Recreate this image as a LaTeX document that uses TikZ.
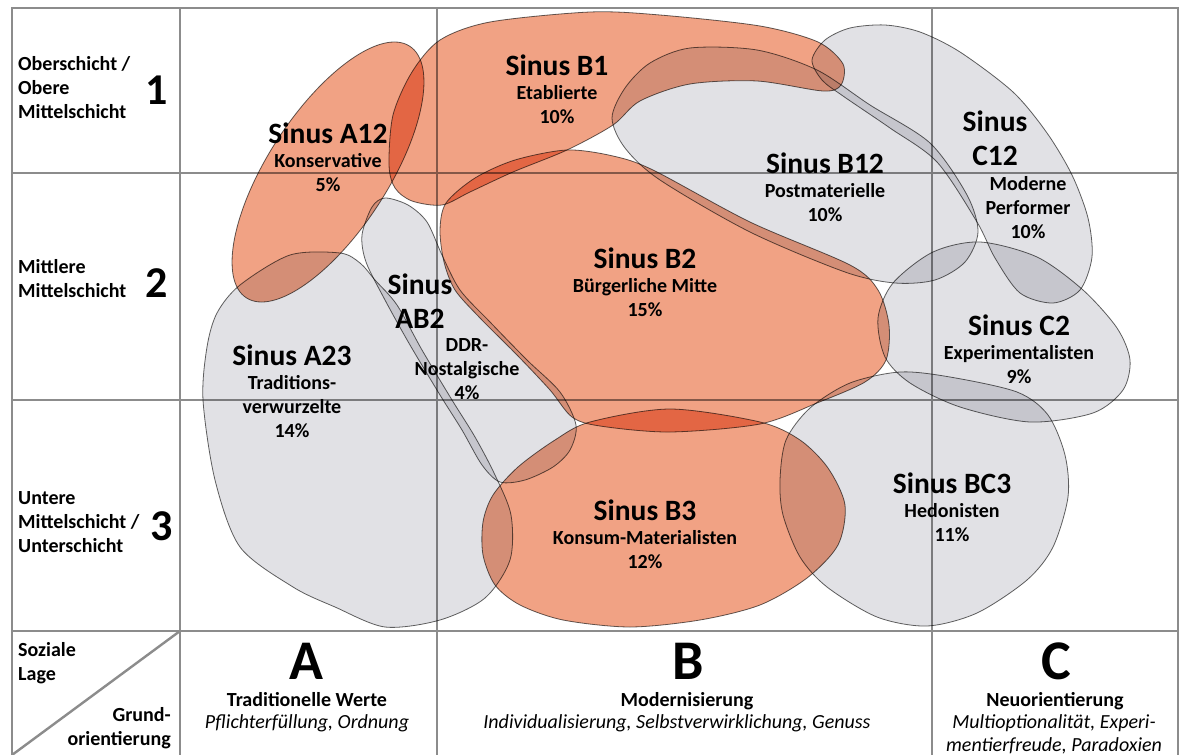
\documentclass[tikz,border=0pt]{standalone}
\usepackage{fontspec}
\setmainfont{Carlito}
\usepackage{tikz}
\usetikzlibrary{positioning}
\definecolor{lagegray}{RGB}{140,140,140}
\definecolor{blobedge}{RGB}{100,100,100}
\definecolor{milieuorange}{RGB}{241,162,132}
\definecolor{milieugray}{RGB}{225,225,229}
\newcommand{\sinusfont}{\fontsize{29.5}{34}\selectfont\bfseries}
\newcommand{\subfont}{\fontsize{20}{24}\selectfont\bfseries}
\newcommand{\digitfont}{\fontsize{44}{44}\selectfont\bfseries}
\newcommand{\letterfont}{\fontsize{56}{56}\selectfont\bfseries}
\newcommand{\zielfont}{\fontsize{20}{23}\selectfont\itshape}
\tikzstyle{gridline}=[draw=lagegray, line width=2.4pt]
\tikzstyle{orangeblob}=[fill=milieuorange, draw=blobedge, line width=0.8pt, blend mode=multiply]
\tikzstyle{grayblob}=[fill=milieugray, draw=blobedge, line width=0.8pt, blend mode=multiply]
\tikzstyle{milieu}=[align=center, anchor=base, inner sep=0pt, font=\subfont]
\tikzstyle{lagetext}=[align=left, anchor=base west, inner sep=0pt, font=\subfont]

\begin{document}
\begin{tikzpicture}[
        x=1pt,
        y=-1pt
        ]
        \useasboundingbox (0,0) rectangle (1181,755);
        \fill[white] (0,0) rectangle (1181,755);
        % raster
        \foreach \x in {12,180,437,932,1178}
            \draw[gridline] (\x,7) -- (\x,760);
        \foreach \y in {8,173,400,631}
            \draw[gridline] (11,\y) -- (1179,\y);
        \draw[gridline] (180,631) -- (12,755);

        % milieus
        \draw[orangeblob, rotate around={57:(328,172)}] (328,172) ellipse [x radius=150, y radius=60];
        \draw[orangeblob] plot[smooth cycle] coordinates {(389,165) (393,115) (412,72) (440,40) (490,22) (590,12) (660,15) (760,26) (818,42) (843,64) (841,85) (823,91) (757,81) (690,84) (640,101) (613,125) (567,150) (513,172) (470,192) (442,205) (412,201) (395,188)};
        \draw[grayblob] plot[smooth cycle] coordinates {(612,118) (625,88) (650,63) (690,48) (757,50) (817,70) (870,105) (930,143) (967,195) (978,232) (965,262) (935,280) (895,283) (845,272) (750,232) (660,180) (625,148)};
        \draw[grayblob] plot[smooth cycle] coordinates {(812,60) (825,40) (850,28) (885,25) (920,32) (960,52) (1013,92) (1047,133) (1072,175) (1088,218) (1092,257) (1080,290) (1053,303) (1020,293) (995,258) (977,222) (937,162) (890,128) (843,96) (822,80)};
        \draw[orangeblob] plot[smooth cycle] coordinates {(440,230) (446,203) (475,178) (515,160) (567,150) (613,156) (653,170) (750,222) (850,265) (878,290) (889,325) (886,360) (865,382) (817,403) (760,424) (670,432) (600,426) (572,417) (550,390) (517,355) (480,318) (455,290) (444,262)};
        \draw[grayblob] plot[smooth cycle] coordinates {(203,400) (207,347) (217,313) (240,285) (290,255) (340,253) (360,263) (375,280) (397,305) (422,350) (452,400) (475,437) (495,475) (511,515) (510,560) (485,598) (440,620) (385,627) (335,607) (293,587) (240,547) (215,480)};
        \draw[grayblob] plot[smooth cycle] coordinates {(385,198) (408,205) (427,222) (442,255) (460,290) (490,322) (527,360) (560,392) (576,425) (570,450) (553,467) (525,480) (500,482) (482,465) (462,430) (440,395) (410,345) (385,300) (366,262) (362,235) (372,207)};
        \draw[grayblob] plot[smooth cycle] coordinates {(878,318) (893,283) (933,252) (980,242) (1037,257) (1083,290) (1117,328) (1130,360) (1123,390) (1093,413) (1030,422) (960,407) (910,383) (885,357)};
        \draw[orangeblob] plot[smooth cycle] coordinates {(590,422) (670,409) (760,422) (800,440) (828,468) (845,505) (838,545) (807,578) (760,605) (700,620) (630,627) (563,620) (520,605) (495,585) (483,555) (483,522) (493,495) (518,467) (555,440)};
        \draw[grayblob] plot[smooth cycle] coordinates {(780,480) (786,440) (810,408) (850,383) (900,372) (950,377) (1017,392) (1048,415) (1065,455) (1068,497) (1053,547) (1027,580) (977,613) (927,626) (877,617) (827,587) (800,557) (783,515)};

        % labels of the milieus (base = last line)
        \node[milieu] (a12) at (328,191) {{\sinusfont Sinus A12}\\Konservative\\5\%};
        \node[milieu] (b1) at (557,123) {{\sinusfont Sinus B1}\\Etablierte\\10\%};
        \node[milieu] (b12) at (825,221) {{\sinusfont Sinus B12}\\Postmaterielle\\10\%};
        \node[milieu, font=\sinusfont] (c12) at (995,165) {Sinus\\C12};
        \node[milieu] (c12-sub) at (1028,238) {Moderne\\Performer\\10\%};
        \node[milieu] (b2) at (645,316) {{\sinusfont Sinus B2}\\B\"urgerliche Mitte\\15\%};
        \node[milieu, font=\sinusfont] (ab2) at (420,328) {Sinus\\AB2};
        \node[milieu] (ab2-sub) at (467,399) {DDR-\\Nostalgische\\4\%};
        \node[milieu] (a23) at (292,437) {{\sinusfont Sinus A23}\\Traditions-\\verwurzelte\\14\%};
        \node[milieu] (c2) at (1019,383) {{\sinusfont Sinus C2}\\Experimentalisten\\9\%};
        \node[milieu] (b3) at (645,568) {{\sinusfont Sinus B3}\\Konsum-Materialisten\\12\%};
        \node[milieu] (bc3) at (952,541) {{\sinusfont Sinus BC3}\\Hedonisten\\11\%};

        % social position
        \node[lagetext] (lage1) at (18,118) {Oberschicht /\\Obere\\Mittelschicht};
        \node[anchor=base, inner sep=0pt, font=\digitfont] (one) at (157,104) {1};
        \node[lagetext] (lage2) at (18,297) {Mittlere\\Mittelschicht};
        \node[anchor=base, inner sep=0pt, font=\digitfont] (two) at (157,297) {2};
        \node[lagetext] (lage3) at (18,552) {Untere\\Mittelschicht /\\Unterschicht};
        \node[anchor=base, inner sep=0pt, font=\digitfont] (three) at (162,540) {3};
        \node[lagetext] (lage) at (18,680) {Soziale\\Lage};
        \node[align=right, anchor=base east, inner sep=0pt, font=\subfont] (grund) at (171,745) {Grund-\\orientierung};

        % basic orientation
        \node[anchor=base, inner sep=0pt, font=\letterfont] (colA) at (306,679) {A};
        \node[anchor=base, inner sep=0pt, font=\subfont] (werteA) at (307,706) {Traditionelle Werte};
        \node[anchor=base, inner sep=0pt, font=\zielfont] (zielA) at (307,728) {Pflichterf\"ullung, Ordnung};
        \node[anchor=base, inner sep=0pt, font=\letterfont] (colB) at (688,679) {B};
        \node[anchor=base, inner sep=0pt, font=\subfont] (werteB) at (687,706) {Modernisierung};
        \node[anchor=base, inner sep=0pt, font=\zielfont] (zielB) at (677,728) {Individualisierung, Selbstverwirklichung, Genuss};
        \node[anchor=base, inner sep=0pt, font=\letterfont] (colC) at (1056,679) {C};
        \node[anchor=base, inner sep=0pt, font=\subfont] (werteC) at (1055,706) {Neuorientierung};
        \node[align=center, anchor=base, inner sep=0pt, font=\zielfont] (zielC) at (1054,751) {Multioptionalit\"at, Experi-\\mentierfreude, Paradoxien};
    \end{tikzpicture}
\end{document}
